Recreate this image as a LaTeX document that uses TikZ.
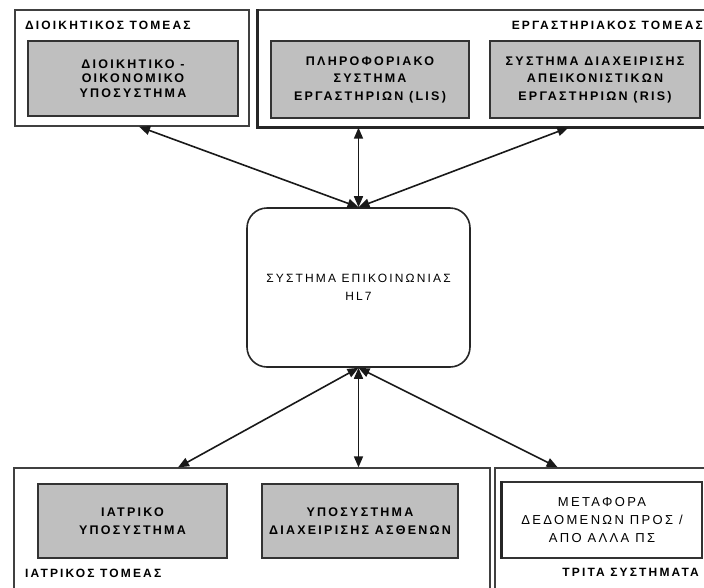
\documentclass[tikz,border=0pt]{standalone}
\usepackage{fontspec}
\setmainfont{Liberation Sans}
\newfontfamily\gk[LetterSpace=18]{Liberation Sans}
\usetikzlibrary{arrows.meta,calc}

\tikzset{
  sector/.style={draw=black!75, line width=1.3pt, fill=white, inner sep=0pt},
  subsys/.style={draw=black!80, line width=1.7pt, fill=black!25, align=center,
    inner sep=0pt, font=\gk\bfseries\fontsize{12.5}{17.5}\selectfont},
  extsys/.style={draw=black!80, line width=1.3pt, fill=white, align=center,
    inner sep=0pt, font=\gk\fontsize{13}{18}\selectfont},
  hub/.style={draw=black!85, line width=1.6pt, rounded corners=20pt, fill=white,
    align=center, inner sep=0pt, font=\gk\fontsize{12}{18}\selectfont},
  sectorlabel/.style={inner sep=0pt, font=\gk\bfseries\fontsize{12}{14}\selectfont},
  conn/.style={{Triangle[length=11pt,width=9pt]}-{Triangle[length=11pt,width=9pt]},
    line width=1.6pt, black!90},
}

\begin{document}
\begin{tikzpicture}[x=1pt,y=-1pt]
\useasboundingbox[fill=white] (0,0) rectangle (704,587);

% sectors
\node[sector, minimum width=234pt, minimum height=116pt] (adm) at (132,68) {};
\node[sector, minimum width=454pt, minimum height=117pt] (lab) at (485,68.5) {};
\draw[line width=3pt, black!85] (lab.north west) -- (lab.south west) -- (lab.south east);
\node[sector, minimum width=476pt, minimum height=142pt] (med) at (252,539) {};
\node[sector, minimum width=220pt, minimum height=142pt] (third) at (605,539) {};

% sector titles
\node[sectorlabel, anchor=west] (admt) at (25,25) {ΔΙΟΙΚΗΤΙΚΟΣ ΤΟΜΕΑΣ};
\node[sectorlabel, anchor=east] (labt) at (703,25) {ΕΡΓΑΣΤΗΡΙΑΚΟΣ ΤΟΜΕΑΣ};
\node[sectorlabel, anchor=west] (medt) at (25,573) {ΙΑΤΡΙΚΟΣ ΤΟΜΕΑΣ};
\node[sectorlabel, anchor=east] (thirdt) at (699,572) {ΤΡΙΤΑ ΣΥΣΤΗΜΑΤΑ};

% subsystems
\node[subsys, minimum width=210pt, minimum height=75pt,
  font=\gk\bfseries\fontsize{12.5}{14.5}\selectfont] (fin) at (133,78.5)
  {ΔΙΟΙΚΗΤΙΚΟ -\\ΟΙΚΟΝΟΜΙΚΟ\\ΥΠΟΣΥΣΤΗΜΑ};
\node[subsys, minimum width=198pt, minimum height=77pt] (lis) at (370,79.5)
  {ΠΛΗΡΟΦΟΡΙΑΚΟ\\ΣΥΣΤΗΜΑ\\ΕΡΓΑΣΤΗΡΙΩΝ (LIS)};
\node[subsys, minimum width=210pt, minimum height=77pt] (ris) at (595,79.5)
  {ΣΥΣΤΗΜΑ ΔΙΑΧΕΙΡΙΣΗΣ\\ΑΠΕΙΚΟΝΙΣΤΙΚΩΝ\\ΕΡΓΑΣΤΗΡΙΩΝ (RIS)};
\node[subsys, minimum width=189pt, minimum height=74pt] (clin) at (132.5,521)
  {ΙΑΤΡΙΚΟ\\ΥΠΟΣΥΣΤΗΜΑ};
\node[subsys, minimum width=196pt, minimum height=74pt] (pat) at (360,521)
  {ΥΠΟΣΥΣΤΗΜΑ\\ΔΙΑΧΕΙΡΙΣΗΣ ΑΣΘΕΝΩΝ};
\node[extsys, minimum width=200pt, minimum height=76pt] (xfer) at (602,520)
  {ΜΕΤΑΦΟΡΑ\\ΔΕΔΟΜΕΝΩΝ ΠΡΟΣ /\\ΑΠΟ ΑΛΛΑ ΠΣ};
\draw[line width=3pt, black!85] (xfer.north west) -- (xfer.south west);

% communication hub
\node[hub, minimum width=223pt, minimum height=159pt] (hl7) at (358.5,287.5)
  {ΣΥΣΤΗΜΑ ΕΠΙΚΟΙΝΩΝΙΑΣ\\HL7};

% links
\draw[conn] (hl7.north) -- ($(adm.south west)!0.53!(adm.south east)$);
\draw[conn] (hl7.north) -- (hl7.north |- lab.south);
\draw[conn] (hl7.north) -- ($(lab.south west)!0.683!(lab.south east)$);
\draw[conn] (hl7.south) -- ($(med.north west)!0.345!(med.north east)$);
\draw[conn] (hl7.south) -- (hl7.south |- med.north);
\draw[conn] (hl7.south) -- ($(third.north west)!0.286!(third.north east)$);
\end{tikzpicture}
\end{document}
